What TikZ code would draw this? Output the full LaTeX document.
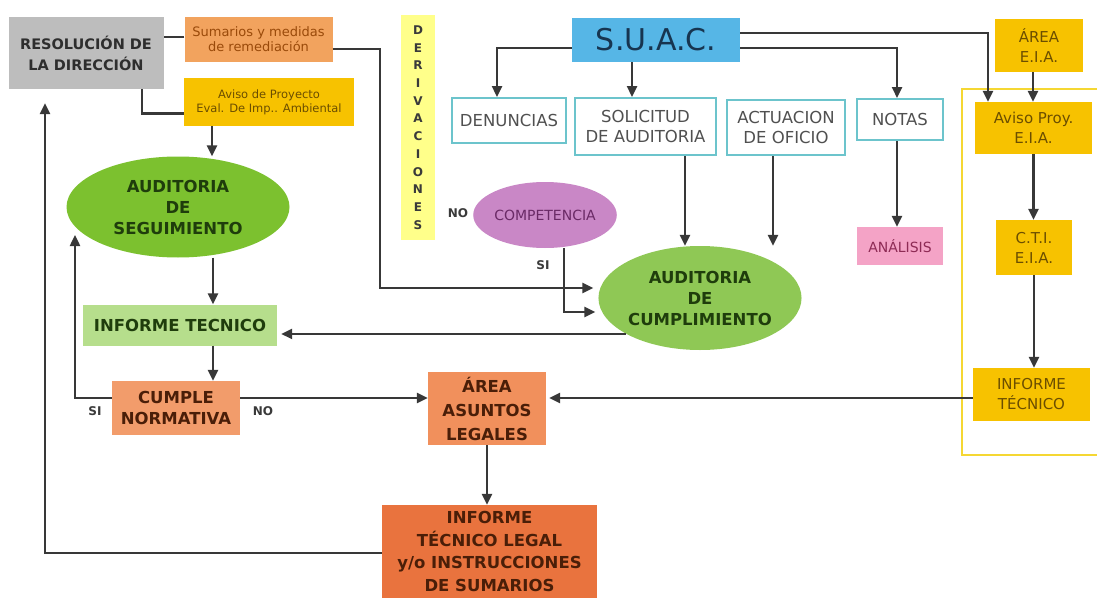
\documentclass[tikz,border=0pt]{standalone}
\usepackage{fontspec}
\setmainfont{DejaVu Sans}
\usetikzlibrary{arrows.meta,shapes.geometric}
\definecolor{lineC}{HTML}{383838}
\definecolor{grayF}{HTML}{BDBDBD}
\definecolor{grayT}{HTML}{2E2E2E}
\definecolor{sumF}{HTML}{F2A35E}
\definecolor{sumT}{HTML}{9A4A0A}
\definecolor{goldF}{HTML}{F7C200}
\definecolor{goldT}{HTML}{6B4E00}
\definecolor{derF}{HTML}{FFFF8A}
\definecolor{derT}{HTML}{3A3A3A}
\definecolor{suacF}{HTML}{56B6E6}
\definecolor{suacT}{HTML}{173550}
\definecolor{cyanB}{HTML}{6CC4CC}
\definecolor{cyanT}{HTML}{505050}
\definecolor{anaF}{HTML}{F4A3C6}
\definecolor{anaT}{HTML}{8E2B55}
\definecolor{compF}{HTML}{C987C6}
\definecolor{compT}{HTML}{6A2A66}
\definecolor{segF}{HTML}{7CC12F}
\definecolor{cumpF}{HTML}{8FC855}
\definecolor{greenT}{HTML}{1F3D0C}
\definecolor{infF}{HTML}{B6DE8C}
\definecolor{cumpleF}{HTML}{F29C6B}
\definecolor{areaF}{HTML}{F1905C}
\definecolor{legalF}{HTML}{E9733E}
\definecolor{brT}{HTML}{4A1E08}
\definecolor{frameC}{HTML}{F5D733}
\newcommand{\fsz}[2]{\fontsize{#1}{#2}\selectfont}
\tikzset{
  ln/.style={draw=lineC, line width=2.4pt},
  arr/.style={ln, -{Triangle[length=11pt,width=10pt]}},
  box/.style={rectangle, inner sep=0pt, align=center},
  cbox/.style={box, draw=cyanB, line width=2pt, fill=white, text=cyanT, font=\fsz{16.5}{20}},
  gbox/.style={box, fill=goldF, text=goldT, font=\fsz{15}{20}},
  bigbold/.style={font=\bfseries\fsz{16.5}{21}},
  lbl/.style={font=\bfseries\fsz{12}{14}, text=derT},
  ell/.style={ellipse, inner sep=0pt, align=center}
}
\begin{document}
\begin{tikzpicture}[x=1pt,y=-1pt]
\useasboundingbox (0,0) rectangle (1097,602);
\fill[white] (0,0) rectangle (1097,602);
% frame
\node[rectangle, draw=frameC, line width=2pt, minimum width=150pt, minimum height=366pt, inner sep=0pt] (frame) at (1037,272) {};
% left top
\node[box, fill=grayF, text=grayT, minimum width=155pt, minimum height=72pt, font=\bfseries\fsz{14.5}{21}] (res) at (86,53) {RESOLUCIÓN DE\\LA DIRECCIÓN};
\node[box, fill=sumF, text=sumT, minimum width=148pt, minimum height=45pt, font=\fsz{13}{15}] (sum) at (258.5,39.5) {Sumarios y medidas\\de remediación};
\node[box, fill=goldF, text=goldT, minimum width=170pt, minimum height=48pt, font=\fsz{11.5}{14}] (aviso) at (269,102) {Aviso de Proyecto\\Eval. De Imp.. Ambiental};
% derivaciones
\node[box, fill=derF, text=derT, minimum width=34pt, minimum height=225pt, font=\bfseries\fsz{12}{17.7}] (der) at (418,127.5) {D\\E\\R\\I\\V\\A\\C\\I\\O\\N\\E\\S};
% SUAC
\node[box, fill=suacF, text=suacT, minimum width=168pt, minimum height=44pt, font=\fsz{30}{34}] (suac) at (656,40) {S.U.A.C.};
\node[cbox, minimum width=114pt, minimum height=45pt] (den) at (509,120.5) {DENUNCIAS};
\node[cbox, minimum width=141pt, minimum height=57pt] (sol) at (645.5,126.5) {SOLICITUD\\DE AUDITORIA};
\node[cbox, minimum width=118pt, minimum height=55pt] (act) at (786,127.5) {ACTUACION\\DE OFICIO};
\node[cbox, minimum width=86pt, minimum height=41pt] (notas) at (900,119.5) {NOTAS};
\node[box, fill=anaF, text=anaT, minimum width=86pt, minimum height=38pt, font=\fsz{14}{16}] (anal) at (900,246) {ANÁLISIS};
\node[ell, fill=compF, text=compT, minimum width=136pt, minimum height=66pt, font=\fsz{14}{16}] (comp) at (545,215) {COMPETENCIA};
\node[ell, fill=cumpF, text=greenT, bigbold, minimum width=190pt, minimum height=104pt] (cump) at (700,298) {AUDITORIA\\DE\\CUMPLIMIENTO};
% left column
\node[ell, fill=segF, text=greenT, bigbold, minimum width=223pt, minimum height=101pt] (seg) at (178,207) {AUDITORIA\\DE\\SEGUIMIENTO};
\node[box, fill=infF, text=greenT, bigbold, minimum width=194pt, minimum height=41pt] (inf) at (180,325) {INFORME TECNICO};
\node[box, fill=cumpleF, text=brT, bigbold, minimum width=128pt, minimum height=54pt] (cumple) at (176,408) {CUMPLE\\NORMATIVA};
\node[box, fill=areaF, text=brT, font=\bfseries\fsz{16.5}{24}, minimum width=118pt, minimum height=73pt] (area) at (487,408.5) {ÁREA\\ASUNTOS\\LEGALES};
\node[box, fill=legalF, text=brT, font=\bfseries\fsz{16.5}{22.5}, minimum width=215pt, minimum height=93pt] (legal) at (489.5,551.5) {INFORME\\TÉCNICO LEGAL\\y/o INSTRUCCIONES\\DE SUMARIOS};
% right column
\node[gbox, minimum width=88pt, minimum height=53pt] (eia) at (1039,45.5) {ÁREA\\E.I.A.};
\node[gbox, minimum width=117pt, minimum height=52pt] (avp) at (1033.5,128) {Aviso Proy.\\E.I.A.};
\node[gbox, minimum width=76pt, minimum height=55pt] (cti) at (1034,247.5) {C.T.I.\\E.I.A.};
\node[gbox, minimum width=117pt, minimum height=53pt] (infe) at (1031.5,394.5) {INFORME\\TÉCNICO};
% labels
\node[lbl] (lno1) at (458,213) {NO};
\node[lbl] (lsi1) at (543,265) {SI};
\node[lbl] (lsi2) at (95,411) {SI};
\node[lbl] (lno2) at (263,411) {NO};
% connectors
\draw[ln] ([yshift=2.5pt]sum.west) -- ([yshift=2.5pt]sum.west -| res.east);
\draw[ln] ([xshift=56pt]res.south) |- ([yshift=-11.5pt]aviso.west);
\draw[arr] ([xshift=-57pt]aviso.south) -- ([xshift=-57pt]aviso.south |- seg.north);
\coordinate (k1) at (380,288);
\draw[arr, shorten >=5pt] ([yshift=-9.5pt]sum.east) -| (k1) -- (k1 -| cump.west);
\draw[arr, shorten >=3pt] ([xshift=19pt]comp.south) |- ([yshift=-14pt]cump.west);
\draw[arr] ([yshift=-8pt]suac.west) -| ([xshift=-12pt]den.north);
\draw[arr] ([xshift=-24pt]suac.south) -- ([xshift=-24pt]suac.south |- sol.north);
\draw[arr] ([yshift=-8pt]suac.east) -| ([xshift=-3pt]notas.north);
\draw[arr] ([yshift=7pt]suac.east) -| ([xshift=-45.5pt]avp.north);
\draw[arr] ([xshift=-6pt]eia.south) -- ([xshift=-6pt]eia.south |- avp.north);
\draw[arr] (avp.south) -- (avp.south |- cti.north);
\draw[arr] (cti.south) -- (cti.south |- infe.north);
\draw[arr] ([xshift=39.5pt]sol.south) -- ([xshift=39.5pt]sol.south |- cump.north);
\draw[arr] ([xshift=-13pt]act.south) -- ([xshift=-13pt]act.south |- cump.north);
\draw[arr] ([xshift=-3pt]notas.south) -- ([xshift=-3pt]notas.south |- anal.north);
\draw[arr, shorten >=4pt] (cump.206) -- (cump.206 -| inf.east);
\draw[arr] ([xshift=35pt]seg.south) -- ([xshift=35pt]seg.south |- inf.north);
\draw[arr] ([xshift=33pt]inf.south) -- ([xshift=33pt]inf.south |- cumple.north);
\draw[arr] ([yshift=10pt]cumple.west) -| ([xshift=-103pt,yshift=-28pt]seg.center);
\draw[arr] ([yshift=10pt]cumple.east) -- ([yshift=10pt]cumple.east -| area.west);
\draw[arr, shorten >=3pt] ([yshift=-3.5pt]infe.west) -- ([yshift=-3.5pt]infe.west -| area.east);
\draw[arr] (area.south) -- (area.south |- legal.north);
\draw[arr, shorten >=14pt] ([yshift=-1.5pt]legal.west) -| ([xshift=-41pt]res.south);
\end{tikzpicture}
\end{document}
